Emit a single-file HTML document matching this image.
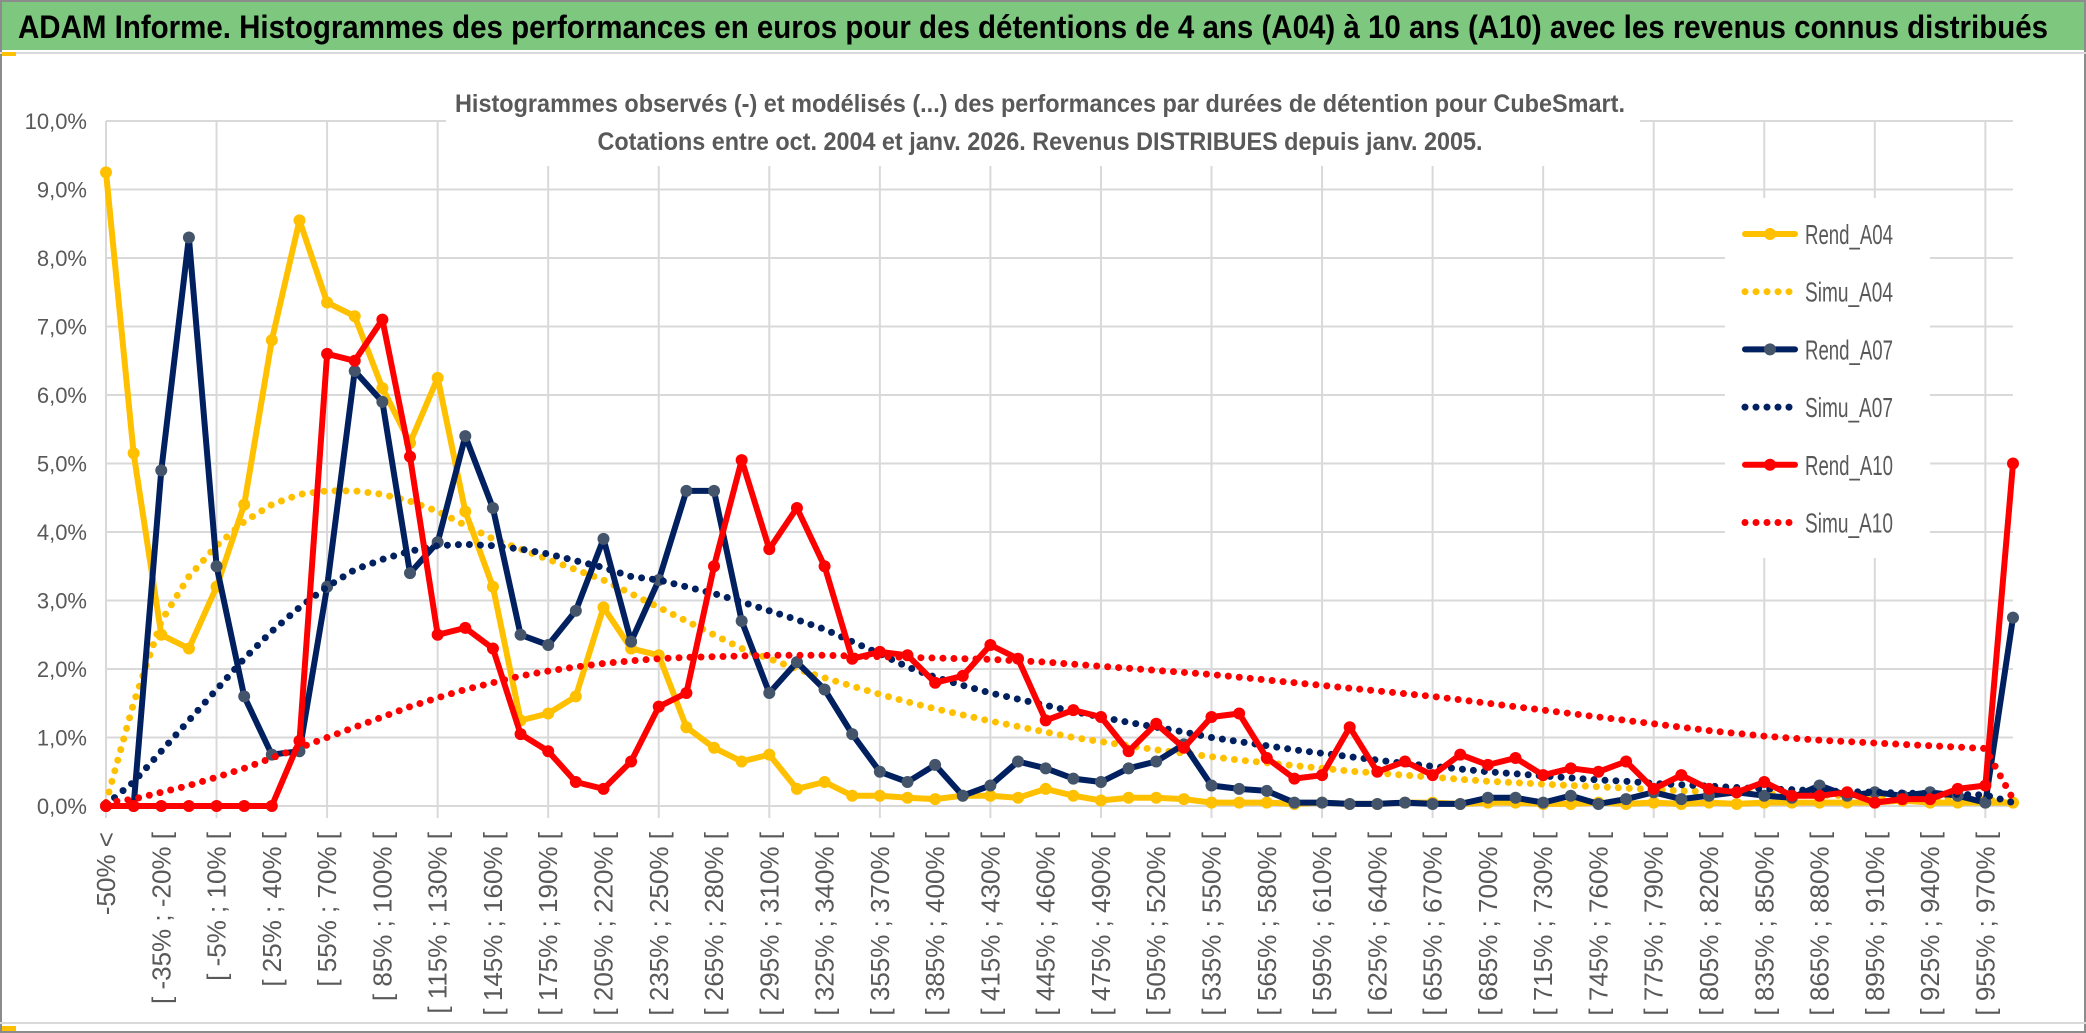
<!DOCTYPE html>
<html><head><meta charset="utf-8"><style>
html,body{margin:0;padding:0;background:#fff;}
svg{display:block;font-family:"Liberation Sans",sans-serif;}
</style></head><body>
<svg id="c" width="2086" height="1033" viewBox="0 0 2086 1033">
<rect x="0" y="0" width="2086" height="1033" fill="#fff"/>
<rect x="1" y="1" width="2084" height="1031" fill="none" stroke="#8c8c8c" stroke-width="2"/>
<rect x="2" y="2" width="2082" height="48" fill="#7dc87e"/>
<text x="18" y="38" font-size="32" font-weight="bold" fill="#000" textLength="2030" lengthAdjust="spacingAndGlyphs">ADAM Informe. Histogrammes des performances en euros pour des détentions de 4 ans (A04) à 10 ans (A10) avec les revenus connus distribués</text>
<rect x="0" y="52" width="2086" height="2" fill="#d9d9d9"/>
<rect x="0" y="1022" width="2086" height="2" fill="#d9d9d9"/>
<rect x="2" y="1026" width="14" height="5" fill="#ffc000"/>
<rect x="2" y="52" width="14" height="4" fill="#ffc000"/>
<g id="grid"></g>
<rect x="446" y="80" width="1194" height="86" fill="#fff"/>
<text x="1040" y="112" font-size="25" font-weight="bold" fill="#595959" text-anchor="middle" textLength="1170" lengthAdjust="spacingAndGlyphs">Histogrammes observés (-) et modélisés (...) des performances par durées de détention pour CubeSmart.</text>
<text x="1040" y="150" font-size="25" font-weight="bold" fill="#595959" text-anchor="middle" textLength="885" lengthAdjust="spacingAndGlyphs">Cotations entre oct. 2004 et janv. 2026. Revenus DISTRIBUES depuis janv. 2005.</text>
<rect x="1725" y="198" width="205" height="360" fill="#fff"/>
<g id="series"></g>
<g id="legend"></g>
<g id="axes"></g>
</svg>
<script>
const categories = ["-50% <","[ -50% ; -35% [","[ -35% ; -20% [","[ -20% ; -5% [","[ -5% ; 10% [","[ 10% ; 25% [","[ 25% ; 40% [","[ 40% ; 55% [","[ 55% ; 70% [","[ 70% ; 85% [",
"[ 85% ; 100% [","[ 100% ; 115% [","[ 115% ; 130% [","[ 130% ; 145% [","[ 145% ; 160% [","[ 160% ; 175% [","[ 175% ; 190% [","[ 190% ; 205% [","[ 205% ; 220% [","[ 220% ; 235% [",
"[ 235% ; 250% [","[ 250% ; 265% [","[ 265% ; 280% [","[ 280% ; 295% [","[ 295% ; 310% [","[ 310% ; 325% [","[ 325% ; 340% [","[ 340% ; 355% [","[ 355% ; 370% [","[ 370% ; 385% [",
"[ 385% ; 400% [","[ 400% ; 415% [","[ 415% ; 430% [","[ 430% ; 445% [","[ 445% ; 460% [","[ 460% ; 475% [","[ 475% ; 490% [","[ 490% ; 505% [","[ 505% ; 520% [","[ 520% ; 535% [",
"[ 535% ; 550% [","[ 550% ; 565% [","[ 565% ; 580% [","[ 580% ; 595% [","[ 595% ; 610% [","[ 610% ; 625% [","[ 625% ; 640% [","[ 640% ; 655% [","[ 655% ; 670% [","[ 670% ; 685% [",
"[ 685% ; 700% [","[ 700% ; 715% [","[ 715% ; 730% [","[ 730% ; 745% [","[ 745% ; 760% [","[ 760% ; 775% [","[ 775% ; 790% [","[ 790% ; 805% [","[ 805% ; 820% [","[ 820% ; 835% [",
"[ 835% ; 850% [","[ 850% ; 865% [","[ 865% ; 880% [","[ 880% ; 895% [","[ 895% ; 910% [","[ 910% ; 925% [","[ 925% ; 940% [","[ 940% ; 955% [","[ 955% ; 970% [","> 970%"];
const rendA04 = [9.25,5.15,2.5,2.3,3.2,4.4,6.8,8.55,7.35,7.15,
6.1,5.3,6.25,4.3,3.2,1.25,1.35,1.6,2.9,2.3,
2.2,1.15,0.85,0.65,0.75,0.25,0.35,0.15,0.15,0.12,
0.1,0.15,0.15,0.12,0.25,0.15,0.08,0.12,0.12,0.1,
0.05,0.05,0.05,0.03,0.05,0.03,0.03,0.05,0.05,0.03,
0.05,0.05,0.03,0.03,0.05,0.03,0.05,0.03,0.05,0.03,
0.05,0.05,0.05,0.05,0.05,0.08,0.05,0.05,0.05,0.05];
const simuA04 = [0.05,1.5,2.7,3.35,3.8,4.15,4.4,4.55,4.6,4.6,
4.55,4.45,4.3,4.1,3.9,3.75,3.6,3.45,3.3,3.1,
2.9,2.7,2.5,2.3,2.15,2.0,1.87,1.75,1.63,1.52,
1.42,1.33,1.24,1.16,1.08,1.0,0.94,0.88,0.82,0.77,
0.72,0.67,0.63,0.59,0.55,0.51,0.48,0.45,0.42,0.39,
0.36,0.34,0.32,0.3,0.28,0.26,0.24,0.22,0.21,0.19,
0.18,0.17,0.16,0.15,0.14,0.13,0.12,0.11,0.1,0.03];
const rendA07 = [0,0,4.9,8.3,3.5,1.6,0.75,0.8,3.2,6.35,
5.9,3.4,3.85,5.4,4.35,2.5,2.35,2.85,3.9,2.4,
3.3,4.6,4.6,2.7,1.65,2.1,1.7,1.05,0.5,0.35,
0.6,0.15,0.3,0.65,0.55,0.4,0.35,0.55,0.65,0.9,
0.3,0.25,0.22,0.05,0.05,0.03,0.03,0.05,0.03,0.03,
0.12,0.12,0.05,0.15,0.03,0.1,0.2,0.1,0.15,0.2,
0.15,0.12,0.3,0.15,0.2,0.15,0.2,0.15,0.05,2.75];
const simuA07 = [0.02,0.35,0.8,1.25,1.7,2.15,2.55,2.9,3.2,3.45,
3.6,3.72,3.8,3.82,3.8,3.75,3.68,3.58,3.48,3.35,
3.3,3.2,3.1,2.98,2.85,2.72,2.58,2.4,2.22,2.03,
1.88,1.76,1.65,1.56,1.47,1.38,1.3,1.22,1.15,1.08,
1.0,0.94,0.88,0.82,0.77,0.72,0.67,0.62,0.58,0.54,
0.5,0.47,0.44,0.41,0.38,0.36,0.33,0.31,0.29,0.27,
0.25,0.24,0.22,0.21,0.2,0.19,0.18,0.17,0.16,0.05];
const rendA10 = [0,0,0,0,0,0,0,0.95,6.6,6.5,
7.1,5.1,2.5,2.6,2.3,1.05,0.8,0.35,0.25,0.65,
1.45,1.65,3.5,5.05,3.75,4.35,3.5,2.15,2.25,2.2,
1.8,1.9,2.35,2.15,1.25,1.4,1.3,0.8,1.2,0.85,
1.3,1.35,0.7,0.4,0.45,1.15,0.5,0.65,0.45,0.75,
0.6,0.7,0.45,0.55,0.5,0.65,0.25,0.45,0.25,0.2,
0.35,0.15,0.15,0.2,0.05,0.1,0.1,0.25,0.3,5.0];
const simuA10 = [0.05,0.1,0.2,0.3,0.42,0.55,0.7,0.85,1.0,1.15,
1.3,1.45,1.58,1.7,1.8,1.9,1.97,2.03,2.08,2.12,
2.15,2.17,2.18,2.19,2.2,2.2,2.2,2.19,2.18,2.17,
2.16,2.15,2.14,2.12,2.1,2.07,2.04,2.01,1.98,1.95,
1.92,1.88,1.84,1.8,1.76,1.72,1.68,1.64,1.6,1.55,
1.5,1.45,1.4,1.35,1.3,1.25,1.2,1.15,1.1,1.06,
1.02,0.99,0.96,0.94,0.92,0.9,0.88,0.86,0.84,0.1];
const yTicks = [0,1,2,3,4,5,6,7,8,9,10];
const yTickLabels = ["0,0%","1,0%","2,0%","3,0%","4,0%","5,0%","6,0%","7,0%","8,0%","9,0%","10,0%"];
const seriesNames = ["Rend_A04","Simu_A04","Rend_A07","Simu_A07","Rend_A10","Simu_A10"];

const NS = "http://www.w3.org/2000/svg";
const X0 = 106, X1 = 2013, Y0 = 806, Y1 = 121;
const n = categories.length;
function xS(i){ return X0 + (X1 - X0) * i / (n - 1); }
function yS(v){ return Y0 - (Y0 - Y1) * v / 10; }
function mk(tag, attrs, parent){
  const e = document.createElementNS(NS, tag);
  for (const k in attrs) e.setAttribute(k, attrs[k]);
  parent.appendChild(e);
  return e;
}
const grid = document.getElementById('grid');
const axes = document.getElementById('axes');
const seriesG = document.getElementById('series');
const legend = document.getElementById('legend');

yTicks.forEach((t, k) => {
  const l = mk('line', {x1: X0, x2: X1, y1: yS(t), y2: yS(t), stroke: '#d9d9d9', 'stroke-width': 2}, grid);
  
  
  const tx = mk('text', {x: 87, y: yS(t) + 8, 'font-size': 22, fill: '#595959', 'text-anchor': 'end'}, axes);
  tx.textContent = yTickLabels[k];
  
  
});
for (let i = 0; i < n; i += 4) {
  const l = mk('line', {x1: xS(i), x2: xS(i), y1: Y1, y2: Y0 + 12, stroke: '#d9d9d9', 'stroke-width': 2}, grid);
  
  
}
for (let i = 0; i < n - 1; i += 2) {
  const x = xS(i) + 9, y = 832;
  const tx = mk('text', {x: x, y: y, 'font-size': 26, fill: '#595959', 'text-anchor': 'end', transform: 'rotate(-90 ' + x + ' ' + y + ')'}, axes);
  tx.textContent = categories[i];
  
  
}

function pts(arr){ return arr.map((v, i) => xS(i).toFixed(1) + ',' + yS(v).toFixed(1)).join(' '); }
function solid(arr, color, marker, name){
  const p = mk('polyline', {points: pts(arr), fill: 'none', stroke: color, 'stroke-width': 6, 'stroke-linejoin': 'round', 'stroke-linecap': 'round'}, seriesG);
  
  
  arr.forEach((v, i) => {
    const c = mk('circle', {cx: xS(i), cy: yS(v), r: 6, fill: marker}, seriesG);
    
    
  });
}
function dotted(arr, color, name){
  const p = mk('polyline', {points: pts(arr), fill: 'none', stroke: color, 'stroke-width': 7, 'stroke-linecap': 'round', 'stroke-dasharray': '0 11'}, seriesG);
  
  
}
solid(rendA04, '#ffc000', '#ffc000', 'rend-a04');
dotted(simuA04, '#ffc000', 'simu-a04');
solid(rendA07, '#002060', '#44546a', 'rend-a07');
dotted(simuA07, '#002060', 'simu-a07');
solid(rendA10, '#ff0000', '#ff0000', 'rend-a10');
dotted(simuA10, '#ff0000', 'simu-a10');

const legColors = ['#ffc000','#ffc000','#002060','#002060','#ff0000','#ff0000'];
const legMarkers = ['#ffc000',null,'#44546a',null,'#ff0000',null];
seriesNames.forEach((nm, k) => {
  const y = 234 + k * 57.7;
  const g = mk('g', {}, legend);
  
  
  if (legMarkers[k]) {
    mk('line', {x1: 1745, x2: 1795, y1: y, y2: y, stroke: legColors[k], 'stroke-width': 6, 'stroke-linecap': 'round'}, g);
    mk('circle', {cx: 1770, cy: y, r: 6, fill: legMarkers[k]}, g);
  } else {
    mk('line', {x1: 1745, x2: 1790, y1: y, y2: y, stroke: legColors[k], 'stroke-width': 7, 'stroke-linecap': 'round', 'stroke-dasharray': '0 11'}, g);
  }
  const t = mk('text', {x: 1805, y: y + 10, 'font-size': 28, fill: '#595959', textLength: 88, lengthAdjust: 'spacingAndGlyphs'}, g);
  t.textContent = nm;
});
</script>
</body></html>
